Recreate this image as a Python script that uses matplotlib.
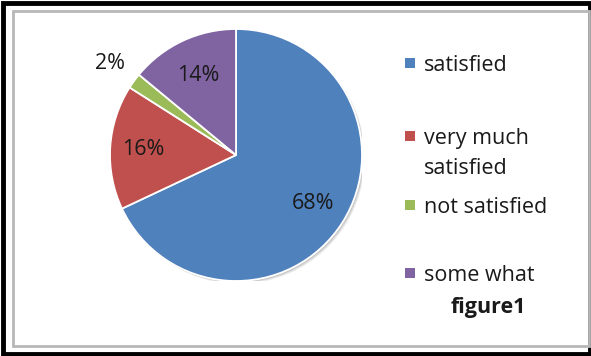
import matplotlib
matplotlib.use("Agg")
import matplotlib.pyplot as plt
from matplotlib.patches import Rectangle, Circle
import numpy as np

categories = ["satisfied", "very much\nsatisfied", "not satisfied", "some what"]
values = [68, 16, 2, 14]
pct_labels = ["68%", "16%", "2%", "14%"]
colors = ["#4F81BD", "#C0504D", "#9BBB59", "#8064A2"]
caption = "figure1"

W, H = 591, 356
fig = plt.figure(figsize=(W / 100, H / 100), dpi=100)
fig.patch.set_facecolor("white")
FONT = "Open Sans"
FS = 15.5

# frames
fig.add_artist(Rectangle((2.5 / W, 2.5 / H), (W - 4) / W, (H - 5.5) / H, transform=fig.transFigure,
                         fill=False, edgecolor="black", linewidth=3.5))
fig.add_artist(Rectangle((13 / W, 10.5 / H), (576 / W), (335 / H), transform=fig.transFigure,
                         fill=False, edgecolor="#b8b8b8", linewidth=2.0))

cx, cy, r = 236, 201, 126
ax = fig.add_axes([(cx - r) / W, (cy - r) / H, 2 * r / W, 2 * r / H])
ax.set_aspect("equal")
ax.axis("off")

# soft shadow
for i, a in enumerate([0.10, 0.08, 0.06]):
    ax.add_patch(Circle((0.012 + 0.006 * i, -0.012 - 0.006 * i), 1.0, facecolor="black",
                        alpha=a, edgecolor="none", zorder=0))

wedges, _ = ax.pie(values, colors=colors, startangle=90, counterclock=False,
                   radius=1.0, center=(0, 0),
                   wedgeprops=dict(edgecolor="white", linewidth=1.3), frame=False)
ax.set_xlim(-1, 1)
ax.set_ylim(-1, 1)

dists = [0.72, 0.74, 1.24, 0.70]
for w, lab, d in zip(wedges, pct_labels, dists):
    ang = np.deg2rad((w.theta1 + w.theta2) / 2)
    ax.text(d * np.cos(ang), d * np.sin(ang), lab, ha="center", va="center",
            fontsize=FS, family=FONT, color="#1a1a1a")

# legend (manual)
entry_y = [63, 136, 205, 273]
line_gap = 30
for lab, col, y in zip(categories, colors, entry_y):
    fig.add_artist(Rectangle((405 / W, 1 - (y + 5) / H), 10 / W, 10 / H,
                             transform=fig.transFigure, facecolor=col, edgecolor="none"))
    for k, line in enumerate(lab.split("\n")):
        fig.text(424 / W, 1 - (y + k * line_gap) / H, line, ha="left", va="center_baseline",
                 fontsize=FS, family=FONT, color="#1a1a1a")

fig.text(488 / W, 1 - 307 / H, caption, ha="center", va="center", fontsize=FS,
         family=FONT, fontweight="bold", color="#1a1a1a")

fig.savefig("out.png", dpi=100, facecolor="white")
